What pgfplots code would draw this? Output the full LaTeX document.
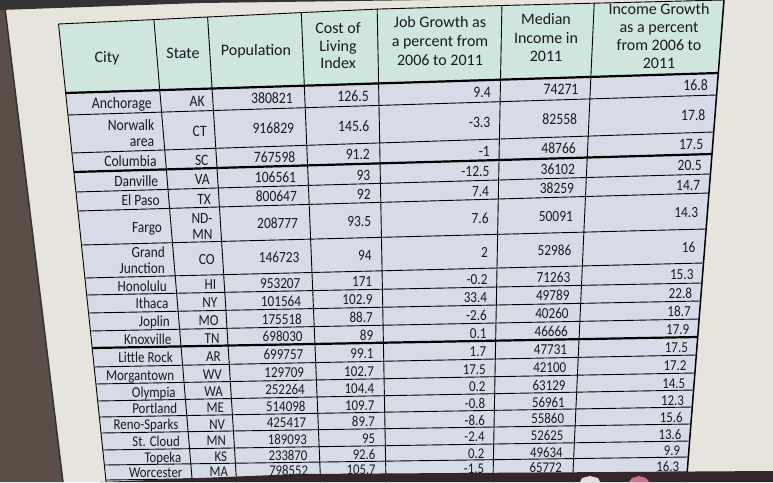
\documentclass[border=0pt]{standalone}
\usepackage{pgfplots}
\usepackage{pgfplotstable}
\pgfplotsset{compat=1.18}
\usepackage{fontspec}
\setmainfont{Carlito}
\definecolor{paper}{RGB}{231,228,222}
\definecolor{hdr}{RGB}{207,230,222}
\definecolor{cell}{RGB}{215,219,231}
\definecolor{grid}{RGB}{55,55,62}
\definecolor{ink}{RGB}{25,25,35}
\definecolor{bezelL}{RGB}{90,78,70}
\definecolor{bezelB}{RGB}{52,36,44}
\newcommand\bodyfont{\fontsize{16}{18}\selectfont}

\pgfplotstableread[col sep=comma]{
cl,cr,cdy,sdy,city,state,pop,cost,job,med,inc
104,84,0,0,Anchorage,AK,380821,126.5,9.4,74271,16.8
134,113.5,-8,0,Norwalk,CT,916829,145.6,-3.3,82558,17.8
162.5,143,0,0,Columbia,SC,767598,91.2,-1,48766,17.5
182,164,0,0,Danville,VA,106561,93,-12.5,36102,20.5
201.5,183.5,0,0,El Paso,TX,800647,92,7.4,38259,14.7
228,211,0,-7.5,Fargo,ND-,208777,93.5,7.6,50091,14.3
261.5,246,-8,0,Grand,CO,146723,94,2,52986,16
286.5,273,0,0,Honolulu,HI,953207,171,-0.2,71263,15.3
304,292,0,0,Ithaca,NY,101564,102.9,33.4,49789,22.8
322,310,0,0,Joplin,MO,175518,88.7,-2.6,40260,18.7
339.5,328,0,0,Knoxville,TN,698030,89,0.1,46666,17.9
357.5,346,0,0,Little Rock,AR,699757,99.1,1.7,47731,17.5
375.5,364,0,0,Morgantown,WV,129709,102.7,17.5,42100,17.2
392.5,381.5,0,0,Olympia,WA,252264,104.4,0.2,63129,14.5
409,398.5,0,0,Portland,ME,514098,109.7,-0.8,56961,12.3
425,415.5,0,0,Reno-Sparks,NV,425417,89.7,-8.6,55860,15.6
441.5,432.5,0,0,St. Cloud,MN,189093,95,-2.4,52625,13.6
457.5,449,0,0,Topeka,KS,233870,92.6,0.2,49634,9.9
472.5,464.5,0,0,Worcester,MA,798552,105.7,-1.5,65772,16.3
}\maintab

\pgfplotstableread[col sep=comma]{
cl,cr,cdy,city
134,113.5,8,area
261.5,246,8,Junction
}\extracity

\pgfplotstableread[col sep=comma]{
cl,cr,sdy,state
228,211,8.5,MN
}\extrastate

\pgfplotstableread[col sep=comma]{
x,y,t
107,57,City
183,53,State
256,50,Population
338,28,Cost of
338,46,Living
338,63,Index
440,22,Job Growth as
440,41,a percent from
440,60,2006 to 2011
546,19,Median
546,38,Income in
546,56,2011
659,9,Income Growth
659,27,as a percent
659,45,from 2006 to
659,63,2011
}\hdrtab

\pgfplotsset{
 celltext/.style={only marks, mark=none, point meta=explicit symbolic, nodes near coords,
   visualization depends on={1.02-0.0002*\thisrow{cl} \as \rsc},
   every node near coord/.append style={anchor=east, inner sep=0pt, text height=10.2pt, text depth=0pt,
     font=\bodyfont, text=ink, scale=\rsc, xscale=0.86}},
}
\newcommand\colplot[5]{\addplot[celltext] table[x expr={#1+(#2)*\thisrow{cl}},
  y expr={\thisrow{cl}+(\thisrow{cr}-\thisrow{cl})*(#1+(#2)*\thisrow{cl}-80)/625+#4+1.5}, meta=#3]{#5};}

\begin{document}
\begin{tikzpicture}
\begin{axis}[width=773pt, height=482pt, scale only axis,
  xmin=0, xmax=773, ymin=0, ymax=482, y dir=reverse, hide axis,
  unbounded coords=jump]
% paper background
\addplot[fill=paper, draw=none] coordinates {(0,0)(773,0)(773,482)(0,482)} -- cycle;
% header fill
\addplot[fill=hdr, draw=none] coordinates {(58.5,24)(153.9,19.6)(207.6,17)(301.3,12.6)(377.2,9.1)(501.9,5.5)(594.2,3.2)(724,0)(718.3,73)(65.7,93)} -- cycle;
% body fill
\addplot[fill=cell, draw=none] coordinates {(65.7,93)(718.3,73)(686.4,482)(106.1,482)} -- cycle;
% thin horizontal lines
\addplot[grid, line width=0.9pt] coordinates {
(68.0,115)(716.6,95) (nan,nan)
(71.9,153)(713.7,132) (nan,nan)
(76.0,192)(710.4,174) (nan,nan)
(77.9,211)(708.9,193) (nan,nan)
(81.5,245)(706.1,229) (nan,nan)
(84.9,278)(703.5,263) (nan,nan)
(86.7,295)(701.9,283) (nan,nan)
(88.6,313)(700.5,301) (nan,nan)
(90.4,331)(699.1,319) (nan,nan)
(94.2,367)(696.3,355) (nan,nan)
(95.9,384)(694.9,373) (nan,nan)
(97.7,401)(693.6,390) (nan,nan)
(99.4,417)(692.3,407) (nan,nan)
(101.0,433)(690.9,424) (nan,nan)
(102.8,450)(689.6,441) (nan,nan)
(104.4,465)(688.4,457) (nan,nan)
(105.9,480)(687.2,472)
};
% header top
\addplot[grid, line width=0.9pt] coordinates {(58.5,24)(153.9,19.6)(207.6,17)(301.3,12.6)(377.2,9.1)(501.9,5.5)(594.2,3.2)(724,0)};
% vertical lines
\addplot[grid, line width=0.9pt] coordinates {
(58.5,24)(106.1,482) (nan,nan)
(153.9,19.6)(192.3,482) (nan,nan)
(207.6,17)(236.6,482) (nan,nan)
(301.3,12.6)(320.6,482) (nan,nan)
(377.2,9.1)(386.0,482) (nan,nan)
(501.9,5.5)(493.0,482) (nan,nan)
(594.2,3.2)(572.6,482)
};
\addplot[grid, line width=1.5pt] coordinates {(724,0)(686.4,482)};
% thick lines
\addplot[black, line width=2.2pt] coordinates {
(65.7,93)(718.3,73) (nan,nan)
(73.9,172)(712.0,154) (nan,nan)
(92.2,348)(697.7,337)
};
% header text
\addplot[only marks, mark=none, point meta=explicit symbolic, nodes near coords,
  every node near coord/.append style={anchor=center, inner sep=0pt, text height=10.3pt, text depth=0pt,
  font=\fontsize{16}{18}\selectfont, text=ink}]
  table[x=x, y=y, meta=t]{\hdrtab};
% body text
\colplot{143.3}{0.083}{city}{\thisrow{cdy}}{\maintab}
\colplot{143.3}{0.083}{city}{\thisrow{cdy}}{\extracity}
\colplot{198.5}{0.0625}{state}{\thisrow{sdy}}{\maintab}
\colplot{198.5}{0.0625}{state}{\thisrow{sdy}}{\extrastate}
\colplot{288.8}{0.041}{pop}{0}{\maintab}
\colplot{367}{0.0187}{cost}{0}{\maintab}
\colplot{493}{-0.0187}{job}{0}{\maintab}
\colplot{583.3}{-0.045}{med}{0}{\maintab}
\colplot{716}{-0.078}{inc}{0}{\maintab}
% bezels
\addplot[fill=bezelL, draw=none] coordinates {(0,0)(4,0)(63,482)(0,482)} -- cycle;
\addplot[black!80, line width=1.5pt] coordinates {(4,0)(63,482)};
\addplot[fill=black!80, draw=none] coordinates {(0,0)(430,0)(200,3)(0,10)} -- cycle;
\addplot[fill=bezelB, draw=none] coordinates {(100,482)(300,474)(773,471)(773,482)} -- cycle;
\addplot[fill={rgb,255:red,228;green,222;blue,226}, draw=none] coordinates {(580,482)(582,478)(590,476)(598,478)(600,482)} -- cycle;
\addplot[fill={rgb,255:red,212;green,112;blue,134}, draw=none] coordinates {(629,482)(632,478)(639,476)(646,478)(649,482)} -- cycle;
\end{axis}
\end{tikzpicture}
\end{document}
